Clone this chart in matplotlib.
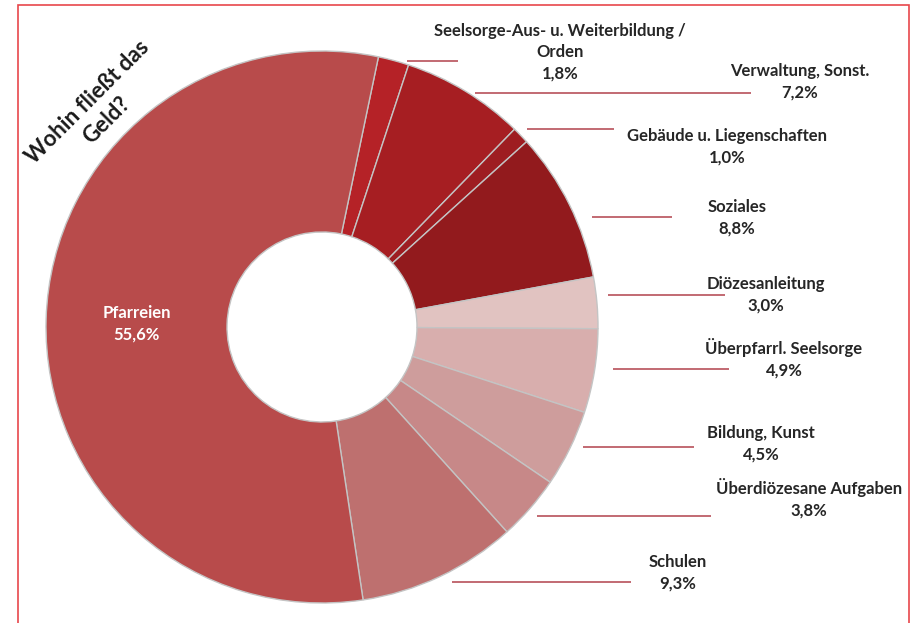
import matplotlib
matplotlib.use("Agg")
import matplotlib.pyplot as plt
from matplotlib.patches import Rectangle

categories = ["Seelsorge-Aus- u. Weiterbildung /\nOrden", "Verwaltung, Sonst.", "Gebäude u. Liegenschaften",
              "Soziales", "Diözesanleitung", "Überpfarrl. Seelsorge", "Bildung, Kunst",
              "Überdiözesane Aufgaben", "Schulen", "Pfarreien"]
values = [1.8, 7.2, 1.0, 8.8, 3.0, 4.9, 4.5, 3.8, 9.3, 55.6]
value_labels = ["1,8%", "7,2%", "1,0%", "8,8%", "3,0%", "4,9%", "4,5%", "3,8%", "9,3%", "55,6%"]
colors = ["#B52227", "#A61E22", "#9E1D21", "#921A1D", "#E1C3C1", "#D8AEAD",
          "#CE9D9C", "#C78888", "#BE706F", "#B84B4B"]

W, H = 919, 623
fig = plt.figure(figsize=(W / 100, H / 100), dpi=100)
ax = fig.add_axes([0, 0, 1, 1])

cx, cy, R, r_in = 322, H - 327, 276, 95
ax.pie(values, colors=colors, startangle=78.2, counterclock=False, center=(cx, cy), radius=R,
       wedgeprops=dict(width=R - r_in, edgecolor="#C4C4C4", linewidth=1.0), frame=True)
ax.set_xlim(0, W)
ax.set_ylim(0, H)
ax.set_aspect("equal")
ax.axis("off")

font = ["Lato", "DejaVu Sans"]
tc = "#262626"
lc = "#B8505A"
fs = 12

# label positions (pixel coords: center x, block center y) and leader lines (x0, x1, y)
label_pos = [(560, 52), (800, 82), (727, 147), (737, 218), (766, 295), (784, 358), (761, 444),
             (809, 498), (678, 573)]
leaders = [(407, 458, 61), (475, 751, 93), (527, 614, 129), (592, 672, 217), (608, 725, 295),
           (613, 729, 369), (583, 694, 447), (537, 711, 516), (452, 631, 582)]

for i in range(9):
    x, y = label_pos[i]
    txt = categories[i] + "\n" + value_labels[i]
    ax.text(x, H - y, txt, ha="center", va="center", fontsize=fs, fontweight="bold",
            family=font, color=tc, linespacing=1.42)
    x0, x1, yy = leaders[i]
    ax.plot([x0, x1], [H - yy, H - yy], color=lc, lw=1.2, solid_capstyle="butt")

ax.text(137, H - 324, categories[9] + "\n" + value_labels[9], ha="center", va="center",
        fontsize=fs, fontweight="bold", family=font, color="white", linespacing=1.42)

ax.text(97, H - 111, "Wohin fließt das\nGeld?", ha="center", va="center", rotation=45,
        rotation_mode="anchor", fontsize=16, fontweight="bold", family=font, color="#1a1a1a",
        linespacing=1.3)

fig.patches.append(Rectangle((18 / W, -0.01), (909 - 18) / W, (H - 5) / H + 0.01,
                             transform=fig.transFigure, fill=False, edgecolor="#E8474B", lw=1.2))

fig.savefig("out.png", dpi=100)
